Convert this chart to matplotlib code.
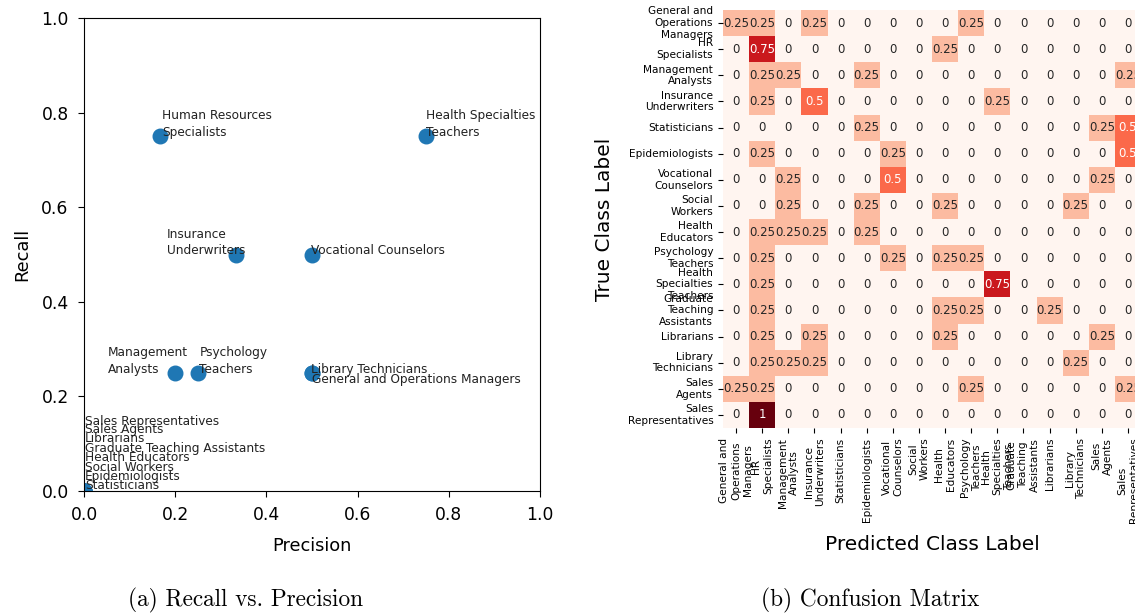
import numpy as np
import matplotlib
matplotlib.use("Agg")
import matplotlib.pyplot as plt
import seaborn as sns

# class names, as used in the confusion matrix ticks
classes = [
    "General and\nOperations\nManagers", "HR\nSpecialists", "Management\nAnalysts",
    "Insurance\nUnderwriters", "Statisticians", "Epidemiologists",
    "Vocational\nCounselors", "Social\nWorkers", "Health\nEducators",
    "Psychology\nTeachers", "Health\nSpecialties\nTeachers",
    "Graduate\nTeaching\nAssistants", "Librarians", "Library\nTechnicians",
    "Sales\nAgents", "Sales\nRepresentatives",
]

# names as written next to the scatter points
point_names = [
    "General and Operations Managers", "Human Resources\nSpecialists",
    "Management\nAnalysts", "Insurance\nUnderwriters", "Statisticians",
    "Epidemiologists", "Vocational Counselors", "Social Workers",
    "Health Educators", "Psychology\nTeachers", "Health Specialties\nTeachers",
    "Graduate Teaching Assistants", "Librarians", "Library Technicians",
    "Sales Agents", "Sales Representatives",
]

precision = [0.5, 1/6, 0.2, 1/3, 0, 0, 0.5, 0, 0, 0.25, 0.75, 0, 0, 0.5, 0, 0]
recall = [0.25, 0.75, 0.25, 0.5, 0, 0, 0.5, 0, 0, 0.25, 0.75, 0, 0, 0.25, 0, 0]

# normalised confusion matrix (rows = true class, cols = predicted)
cm = np.array([
    [0.25, 0.25, 0, 0.25, 0, 0, 0, 0, 0, 0.25, 0, 0, 0, 0, 0, 0],
    [0, 0.75, 0, 0, 0, 0, 0, 0, 0.25, 0, 0, 0, 0, 0, 0, 0],
    [0, 0.25, 0.25, 0, 0, 0.25, 0, 0, 0, 0, 0, 0, 0, 0, 0, 0.25],
    [0, 0.25, 0, 0.5, 0, 0, 0, 0, 0, 0, 0.25, 0, 0, 0, 0, 0],
    [0, 0, 0, 0, 0, 0.25, 0, 0, 0, 0, 0, 0, 0, 0, 0.25, 0.5],
    [0, 0.25, 0, 0, 0, 0, 0.25, 0, 0, 0, 0, 0, 0, 0, 0, 0.5],
    [0, 0, 0.25, 0, 0, 0, 0.5, 0, 0, 0, 0, 0, 0, 0, 0.25, 0],
    [0, 0, 0.25, 0, 0, 0.25, 0, 0, 0.25, 0, 0, 0, 0, 0.25, 0, 0],
    [0, 0.25, 0.25, 0.25, 0, 0.25, 0, 0, 0, 0, 0, 0, 0, 0, 0, 0],
    [0, 0.25, 0, 0, 0, 0, 0.25, 0, 0.25, 0.25, 0, 0, 0, 0, 0, 0],
    [0, 0.25, 0, 0, 0, 0, 0, 0, 0, 0, 0.75, 0, 0, 0, 0, 0],
    [0, 0.25, 0, 0, 0, 0, 0, 0, 0.25, 0.25, 0, 0, 0.25, 0, 0, 0],
    [0, 0.25, 0, 0.25, 0, 0, 0, 0, 0.25, 0, 0, 0, 0, 0, 0.25, 0],
    [0, 0.25, 0.25, 0.25, 0, 0, 0, 0, 0, 0, 0, 0, 0, 0.25, 0, 0],
    [0.25, 0.25, 0, 0, 0, 0, 0, 0, 0, 0.25, 0, 0, 0, 0, 0, 0.25],
    [0, 1, 0, 0, 0, 0, 0, 0, 0, 0, 0, 0, 0, 0, 0, 0],
])

# where each name sits relative to its point (data units)
label_offsets = [
    (0.0, -0.021), (0.005, 0.0), (-0.147, 0.0), (-0.152, 0.0), (0.002, 0.004),
    (0.002, 0.023), (-0.003, 0.0), (0.002, 0.042), (0.002, 0.063), (0.003, 0.0),
    (0.0, 0.0), (0.002, 0.082), (0.002, 0.103), (-0.003, 0.0), (0.002, 0.122),
    (0.002, 0.14),
]

fig = plt.figure(figsize=(11.35, 6.16), dpi=100)

# recall vs precision
ax1 = fig.add_axes([84/1135, 1 - 491/616, 456/1135, 473/616])
ax1.scatter(precision, recall, s=110, color="#1f77b4", zorder=2)
for name, p, r, (dx, dy) in zip(point_names, precision, recall, label_offsets):
    ax1.text(p + dx, r + dy, name, fontsize=8.7, color="#222222",
             linespacing=1.4, va="baseline", ha="left", zorder=3)
ax1.set_xlim(0, 1)
ax1.set_ylim(0, 1)
ax1.set_xlabel("Precision", fontsize=12.8, labelpad=9)
ax1.set_ylabel("Recall", fontsize=12.8, labelpad=7)
ax1.tick_params(labelsize=12.3, length=4.5, pad=6.5)

# confusion matrix
ax2 = fig.add_axes([723/1135, 1 - 428/616, 418/1135, 418/616])
sns.heatmap(cm, annot=True, cmap="Reds", vmin=0, vmax=1, cbar=False,
            xticklabels=classes, yticklabels=classes, ax=ax2,
            annot_kws={"fontsize": 8.5})
ax2.set_xticklabels(classes, rotation=90, fontsize=7.6, ha="center")
ax2.set_yticklabels(classes, rotation=0, fontsize=7.6, ha="right")
ax2.set_xlabel("Predicted Class Label", fontsize=14.5, labelpad=8)
ax2.set_ylabel("True Class Label", fontsize=14.5, labelpad=10)

fig.text(246/1135, 1 - 600/616, "(a) Recall vs. Precision",
         fontfamily="cmr10", fontsize=16.8, ha="center", va="center")
fig.text(870/1135, 1 - 600/616, "(b) Confusion Matrix",
         fontfamily="cmr10", fontsize=16.8, ha="center", va="center")

fig.savefig("out.png", dpi=100)
